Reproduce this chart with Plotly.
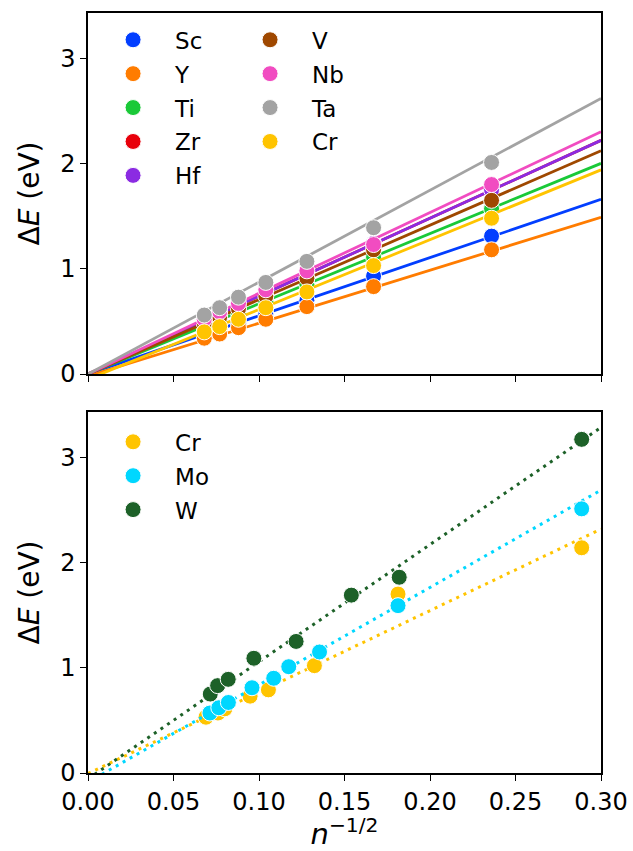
import plotly.graph_objects as go

# ---------------- data ----------------
# top panel
top_elements = ["Sc", "Y", "Ti", "Zr", "Hf", "V", "Nb", "Ta", "Cr"]
top_colors = ["#023eff", "#ff7c00", "#1ac938", "#e8000b", "#8b2be2",
              "#9f4800", "#f14cc1", "#a3a3a3", "#ffc400"]
top_x = [0.068, 0.077, 0.088, 0.104, 0.128, 0.167, 0.236]
top_y = {
    "Sc": [0.37, 0.42, 0.48, 0.57, 0.70, 0.93, 1.31],
    "Y":  [0.34, 0.38, 0.44, 0.52, 0.64, 0.83, 1.18],
    "Ti": [0.44, 0.50, 0.58, 0.69, 0.85, 1.11, 1.57],
    "Zr": [0.49, 0.56, 0.64, 0.76, 0.94, 1.22, 1.73],
    "Hf": [0.50, 0.57, 0.65, 0.77, 0.95, 1.24, 1.75],
    "V":  [0.48, 0.54, 0.62, 0.74, 0.91, 1.18, 1.65],
    "Nb": [0.52, 0.59, 0.67, 0.80, 0.98, 1.23, 1.80],
    "Ta": [0.56, 0.63, 0.73, 0.87, 1.07, 1.39, 2.01],
    "Cr": [0.40, 0.45, 0.52, 0.63, 0.78, 1.03, 1.48],
}
top_fit_slope = [5.53, 5.03, 6.67, 7.40, 7.40, 7.07, 7.67, 8.73, 6.63]
top_fit_intercept = [0.0, -0.02, 0.0, 0.0, 0.0, 0.0, 0.0, 0.0, -0.05]

# bottom panel
bot_elements = ["Cr", "Mo", "W"]
bot_colors = ["#ffc400", "#00d7ff", "#1d6128"]
bot_x = {
    "Cr": [0.069, 0.076, 0.080, 0.0948, 0.1055, 0.1324, 0.1813, 0.2887],
    "Mo": [0.0713, 0.0765, 0.0821, 0.0959, 0.1086, 0.1174, 0.1354, 0.1813, 0.2887],
    "W":  [0.0715, 0.0758, 0.082, 0.097, 0.1217, 0.154, 0.182, 0.2887],
}
bot_y = {
    "Cr": [0.53, 0.57, 0.61, 0.73, 0.79, 1.02, 1.70, 2.14],
    "Mo": [0.57, 0.62, 0.67, 0.81, 0.90, 1.01, 1.15, 1.59, 2.51],
    "W":  [0.75, 0.83, 0.89, 1.09, 1.25, 1.69, 1.86, 3.17],
}
bot_fit_slope = [7.74, 9.25, 11.13]
bot_fit_intercept = [-0.005, -0.087, -0.056]

x_range = [0.0, 0.30]
y_range = [0.0, 3.43]
x_ticks = [0.0, 0.05, 0.10, 0.15, 0.20, 0.25, 0.30]
x_ticklabels = ["0.00", "0.05", "0.10", "0.15", "0.20", "0.25", "0.30"]
y_ticks = [0, 1, 2, 3]

# ---------------- figure ----------------
FONT = "DejaVu Sans"
fig = go.Figure()

legend_of_top = ["legend"] * 5 + ["legend2"] * 4
for i, el in enumerate(top_elements):
    b, m = top_fit_intercept[i], top_fit_slope[i]
    fig.add_trace(go.Scatter(
        x=x_range, y=[b + m * x_range[0], b + m * x_range[1]],
        mode="lines", line=dict(color=top_colors[i], width=2.8),
        showlegend=False, xaxis="x", yaxis="y", hoverinfo="skip"))
    fig.add_trace(go.Scatter(
        x=top_x, y=top_y[el], mode="markers", name=el,
        marker=dict(color=top_colors[i], size=16,
                    line=dict(color="white", width=1)),
        legend=legend_of_top[i], legendgroup=el,
        xaxis="x", yaxis="y"))

for i, el in enumerate(bot_elements):
    b, m = bot_fit_intercept[i], bot_fit_slope[i]
    fig.add_trace(go.Scatter(
        x=x_range, y=[b + m * x_range[0], b + m * x_range[1]],
        mode="lines", line=dict(color=bot_colors[i], width=3, dash="3px,5px"),
        showlegend=False, xaxis="x2", yaxis="y2", hoverinfo="skip"))
    fig.add_trace(go.Scatter(
        x=bot_x[el], y=bot_y[el], mode="markers", name=el,
        marker=dict(color=bot_colors[i], size=16,
                    line=dict(color="white", width=1)),
        legend="legend3", legendgroup="b" + el,
        xaxis="x2", yaxis="y2"))

axis_common = dict(
    range=x_range, tickvals=x_ticks, ticks="outside", ticklen=6, tickwidth=1.3,
    tickcolor="black", showline=True, linecolor="black", linewidth=1.5,
    mirror=True, showgrid=False, zeroline=False, automargin=False,
    tickfont=dict(family=FONT, size=24, color="black"))
yaxis_common = dict(
    range=y_range, tickvals=y_ticks, ticks="outside", ticklen=6, tickwidth=1.3,
    tickcolor="black", showline=True, linecolor="black", linewidth=1.5,
    mirror=True, showgrid=False, zeroline=False, automargin=False,
    tickfont=dict(family=FONT, size=24, color="black"),
    title=dict(text="Δ<i>E</i> (eV)", font=dict(family=FONT, size=28, color="black"),
               standoff=12))

top_dom = [0.525, 1.0]
bot_dom = [0.0, 0.475]

legend_common = dict(
    bgcolor="rgba(0,0,0,0)", borderwidth=0,
    font=dict(family=FONT, size=23, color="black"),
    itemsizing="trace", tracegroupgap=1, traceorder="grouped", itemwidth=74,
    xanchor="left", yanchor="top")

fig.update_layout(
    width=633, height=851,
    margin=dict(l=88, r=32, t=13, b=78, autoexpand=False),
    paper_bgcolor="white", plot_bgcolor="white",
    xaxis=dict(axis_common, domain=[0, 1], anchor="y", showticklabels=False,
               matches="x2"),
    yaxis=dict(yaxis_common, domain=top_dom, anchor="x"),
    xaxis2=dict(axis_common, domain=[0, 1], anchor="y2", ticktext=x_ticklabels,
                title=dict(text="<i>n</i><sup>−1/2</sup>",
                           font=dict(family=FONT, size=29, color="black"),
                           standoff=6)),
    yaxis2=dict(yaxis_common, domain=bot_dom, anchor="x2"),
    legend=dict(legend_common, x=0.006, y=0.993),
    legend2=dict(legend_common, x=0.273, y=0.993),
    legend3=dict(legend_common, x=0.006, y=0.464),
)

fig.write_html("out.html")
